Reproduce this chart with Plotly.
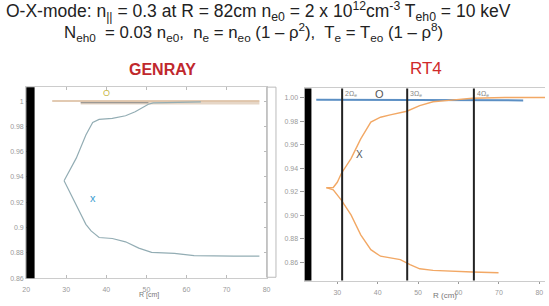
import plotly.graph_objects as go

W, H = 549, 306

# ---------------- data ----------------
# GENRAY (left panel)
genray_x_upper_R = [29.46, 32.5, 34.9, 36.6, 38.2, 41.5, 44.8, 47.2, 50.5, 51.7, 55.0, 60.0, 63.6]
genray_x_upper = [0.9371, 0.9549, 0.9732, 0.9831, 0.9855, 0.9863, 0.9884, 0.9915, 0.9975, 0.9986, 0.9988, 0.9990, 0.9993]
genray_x_lower_R = [29.46, 32.5, 34.9, 36.2, 38.2, 41.5, 44.8, 48.1, 51.3, 57.0, 61.9, 71.8, 78.2]
genray_x_lower = [0.9371, 0.9183, 0.9026, 0.8974, 0.8922, 0.8914, 0.8888, 0.8838, 0.8804, 0.8796, 0.8778, 0.8775, 0.8775]
genray_o_R = [26.5, 78.2]
genray_o = [1.0, 1.0]
genray_o_band_R = [33.6, 78.2]
genray_o_band = [0.9984, 0.9984]
genray_o_inner_R = [33.6, 50.5]
genray_o_inner = [0.9987, 0.9987]
genray_wall = [20.0, 22.1]

# RT4 (right panel)
rt4_x_upper_R = [27.3, 29.0, 30.0, 31.0, 33.4, 35.8, 38.3, 40.7, 43.1, 45.6, 47.2, 50.4, 53.7, 56.9, 63.4, 71.5, 82.0]
rt4_x_upper = [0.9234, 0.9236, 0.9280, 0.9355, 0.9482, 0.9650, 0.9792, 0.9834, 0.9854, 0.9871, 0.9885, 0.9932, 0.9966, 0.9975, 0.9995, 1.0002, 1.0002]
rt4_x_lower_R = [27.3, 29.0, 31.0, 33.4, 35.8, 38.3, 40.7, 43.1, 45.6, 48.0, 50.4, 53.7, 56.9, 63.4, 69.9]
rt4_x_lower = [0.9234, 0.9215, 0.9129, 0.9003, 0.8833, 0.8707, 0.8651, 0.8637, 0.8622, 0.8580, 0.8544, 0.8530, 0.8524, 0.8516, 0.8510]
rt4_o_R = [24.8, 76.0]
rt4_o = [0.9983, 0.9977]
rt4_wall = [21.9, 23.6]
harmonic_R = [31.2, 47.3, 63.8]
harmonic_labels = ["2Ω<sub>e</sub>", "3Ω<sub>e</sub>", "4Ω<sub>e</sub>"]

# ---------------- figure ----------------
FONT = "Liberation Sans, Arial, sans-serif"
fig = go.Figure()

# left panel traces
fig.add_trace(go.Scatter(x=genray_o_band_R, y=genray_o_band, mode="lines",
                         line=dict(color="#e6d6c6", width=3), xaxis="x", yaxis="y"))
fig.add_trace(go.Scatter(x=genray_o_R, y=genray_o, mode="lines",
                         line=dict(color="#d8b898", width=1.6), xaxis="x", yaxis="y"))
fig.add_trace(go.Scatter(x=genray_o_inner_R, y=genray_o_inner, mode="lines",
                         line=dict(color="#8a8a8a", width=1), xaxis="x", yaxis="y"))
fig.add_trace(go.Scatter(x=genray_x_upper_R, y=genray_x_upper, mode="lines",
                         line=dict(color="#93adb4", width=1.2), xaxis="x", yaxis="y"))
fig.add_trace(go.Scatter(x=genray_x_lower_R, y=genray_x_lower, mode="lines",
                         line=dict(color="#93adb4", width=1.2), xaxis="x", yaxis="y"))

# right panel traces
fig.add_trace(go.Scatter(x=rt4_o_R, y=rt4_o, mode="lines",
                         line=dict(color="#5b8fc4", width=2), xaxis="x2", yaxis="y2"))
fig.add_trace(go.Scatter(x=rt4_x_upper_R, y=rt4_x_upper, mode="lines",
                         line=dict(color="#f2a865", width=1.4), xaxis="x2", yaxis="y2"))
fig.add_trace(go.Scatter(x=rt4_x_lower_R, y=rt4_x_lower, mode="lines",
                         line=dict(color="#f2a865", width=1.4), xaxis="x2", yaxis="y2"))

shapes = []
shapes.append(dict(type="rect", xref="x", yref="y domain", x0=genray_wall[0], x1=genray_wall[1],
                   y0=0, y1=1, fillcolor="black", line=dict(width=0), layer="above"))
shapes.append(dict(type="rect", xref="x2", yref="y2 domain", x0=rt4_wall[0], x1=rt4_wall[1],
                   y0=0, y1=1, fillcolor="black", line=dict(width=0), layer="above"))
for r in harmonic_R:
    shapes.append(dict(type="line", xref="x2", yref="y2 domain", x0=r, x1=r, y0=0, y1=1,
                       line=dict(color="#222", width=2)))
# side box of the left image
shapes.append(dict(type="rect", xref="paper", yref="paper", x0=266.5 / W, x1=276 / W,
                   y0=1 - 280 / H, y1=1 - 88 / H, line=dict(color="#bbbbbb", width=1)))


def pann(text, px, py, size, color, **kw):
    return dict(text=text, x=px / W, y=1 - py / H, xref="paper", yref="paper",
                xanchor="center", yanchor="middle", showarrow=False,
                font=dict(family=FONT, size=size, color=color), **kw)


ann = []
ann.append(pann("O-X-mode: n<sub>||</sub> = 0.3 at R = 82cm n<sub>e0</sub> = 2 x 10<sup>12</sup>cm<sup>-3</sup> T<sub>eh0</sub> = 10 keV",
                258, 12, 17.5, "#222"))
ann.append(pann("N<sub>eh0</sub>  = 0.03 n<sub>e0</sub>,  n<sub>e</sub> = n<sub>eo</sub> (1 – ρ<sup>2</sup>),  T<sub>e</sub> = T<sub>eo</sub> (1 – ρ<sup>8</sup>)",
                253, 32, 16.8, "#222"))
ann.append(pann("<b>GENRAY</b>", 161, 70, 16, "#c0282d"))
ann.append(pann("RT4", 428, 69, 17, "#d02a2a"))
ann.append(pann("R [cm]", 147, 298, 7, "#777"))
ann.append(pann("R (cm)", 448, 298, 8, "#777"))
ann.append(dict(text="O", x=40.1, y=1.0064, xref="x", yref="y", showarrow=False,
                font=dict(family=FONT, size=9, color="#c9b84a")))
ann.append(dict(text="x", x=36.6, y=0.9235, xref="x", yref="y", showarrow=False,
                font=dict(family=FONT, size=11, color="#3d9ed0")))
ann.append(dict(text="O", x=40.4, y=1.0031, xref="x2", yref="y2", showarrow=False,
                font=dict(family=FONT, size=11, color="#555")))
ann.append(dict(text="X", x=35.5, y=0.9516, xref="x2", yref="y2", showarrow=False,
                font=dict(family=FONT, size=10, color="#555")))
for r, t in zip(harmonic_R, harmonic_labels):
    ann.append(dict(text=t, x=r, y=1.0035, xref="x2", yref="y2", showarrow=False,
                    xanchor="left", xshift=1, font=dict(family=FONT, size=7, color="#888")))

tickfont = dict(family=FONT, size=7, color="#999")
fig.update_layout(
    width=W, height=H, margin=dict(l=0, r=0, t=0, b=0),
    paper_bgcolor="white", plot_bgcolor="white", showlegend=False,
    shapes=shapes, annotations=ann,
    xaxis=dict(domain=[22.5 / W, 266.5 / W], range=[20, 80], dtick=10, tick0=20,
               showgrid=False, zeroline=False, showline=True, mirror="ticks",
               linecolor="#cccccc", ticks="inside", ticklen=3, tickcolor="#bbbbbb",
               tickfont=tickfont, ticklabelstandoff=4, anchor="y"),
    yaxis=dict(domain=[1 - 281 / H, 1 - 88 / H], range=[0.86, 1.011], dtick=0.02, tick0=0.86,
               showgrid=False, zeroline=False, showline=True, mirror="ticks",
               linecolor="#cccccc", ticks="inside", ticklen=3, tickcolor="#bbbbbb",
               tickfont=tickfont, anchor="x"),
    xaxis2=dict(domain=[305 / W, 1.0], range=[21.9, 81.4], dtick=10, tick0=30,
                showgrid=False, zeroline=False, showline=True, mirror=True,
                linecolor="#cccccc", ticks="outside", ticklen=2, tickcolor="#999",
                tickfont=tickfont, ticklabelstandoff=3, anchor="y2"),
    yaxis2=dict(domain=[1 - 283.3 / H, 1 - 89.3 / H], range=[0.8444, 1.0079], dtick=0.02,
                tick0=0.86, tickformat=".2f",
                showgrid=False, zeroline=False, showline=True, mirror=False,
                linecolor="#cccccc", ticks="outside", ticklen=4, tickcolor="#999",
                tickfont=tickfont, anchor="x2"),
)

fig.write_html("out.html")
